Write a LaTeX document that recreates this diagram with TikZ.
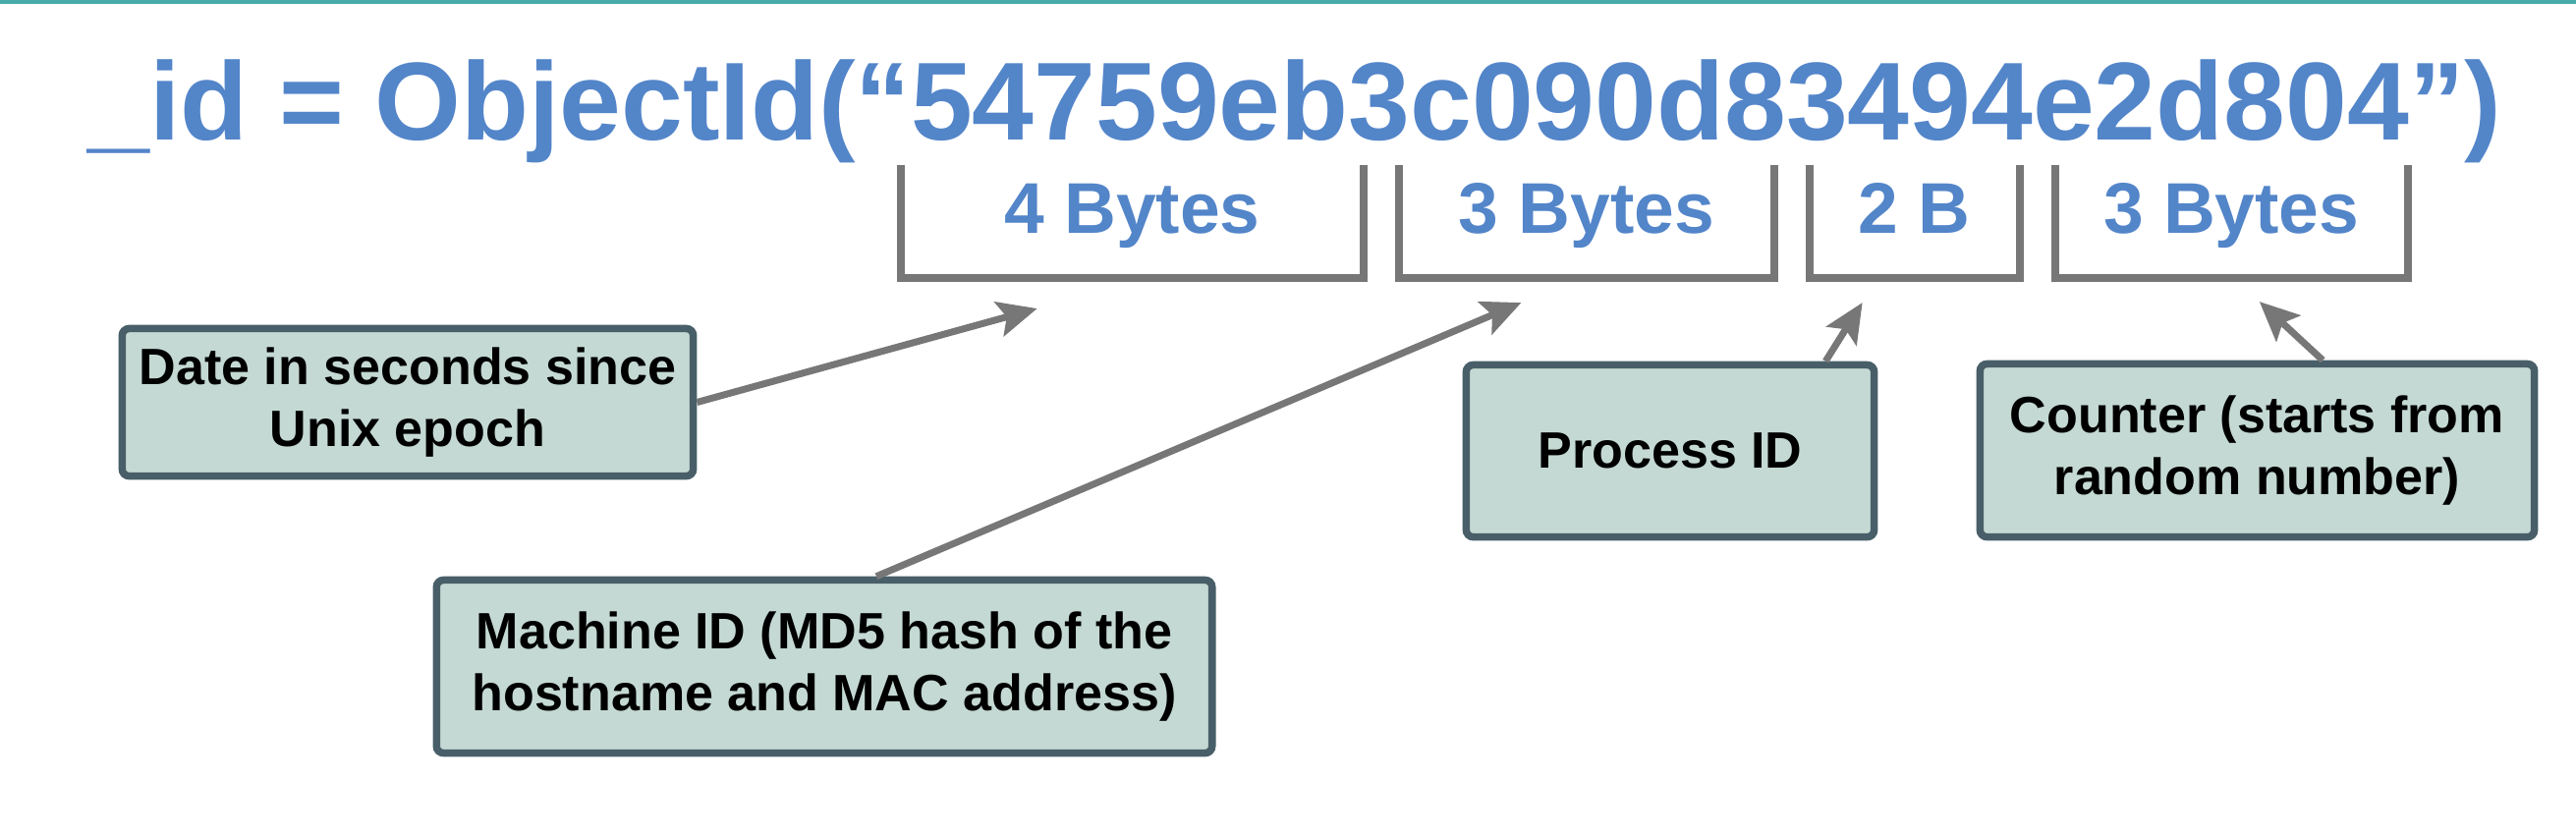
\documentclass[tikz,border=0pt]{standalone}
\usepackage{fontspec}
\setmainfont{Liberation Sans}
\usetikzlibrary{matrix}
\usetikzlibrary{positioning}
\usetikzlibrary{arrows.meta}

\definecolor{idblue}{HTML}{5385C9}
\definecolor{brkgray}{HTML}{777777}
\definecolor{boxfill}{HTML}{C4D9D3}
\definecolor{boxline}{HTML}{485F69}
\definecolor{topline}{HTML}{4AABAB}

\begin{document}
\begin{tikzpicture}
  [x=0.01cm, y=-0.01cm,
   mat/.style={matrix of nodes,
      nodes={minimum height=1.15cm, inner sep=0pt, outer sep=0pt,
             text height=0.52cm, text depth=0.29cm, text=idblue,
             font=\fontsize{20.8}{24}\selectfont\bfseries},
      column sep=0.36cm,
      inner sep=0pt, outer sep=0pt,
  },
   brk/.style={draw=brkgray, line width=0.08cm},
   info/.style={draw=boxline, fill=boxfill, line width=0.075cm, rounded corners=2pt,
      align=center, font=\fontsize{14.8}{18}\selectfont\bfseries},
   arr/.style={draw=brkgray, line width=0.07cm,
      -{Stealth[length=0.4cm, width=0.36cm, inset=0.08cm]}}]
  \useasboundingbox (0,0) rectangle (2622,850);
  \fill[topline] (0,0) rectangle (2622,4);

  \node[anchor=base, text=idblue, font=\fontsize{32.1}{37}\selectfont\bfseries] (oid)
    at (1318,142) {\_id = ObjectId(“54759eb3c090d83494e2d804”)};

  \matrix[mat, anchor=north west] (bytes) at (917,168)
         {
           |[minimum width=4.71cm]| 4 Bytes & |[minimum width=3.81cm]| 3 Bytes
             & |[minimum width=2.14cm]| 2 B & |[minimum width=3.59cm]| 3 Bytes \\
         };
  \foreach \c in {1,...,4}
    \draw[brk] (bytes-1-\c.north west) |- (bytes-1-\c.south east) -- (bytes-1-\c.north east);

  \node[info, minimum width=5.81cm, minimum height=1.50cm] (date) at (415,409.5)
    {Date in seconds since\\Unix epoch};
  \node[info, minimum width=7.89cm, minimum height=1.76cm] (machine) at (839,678.5)
    {Machine ID (MD5 hash of the\\hostname and MAC address)};
  \node[info, minimum width=4.15cm, minimum height=1.75cm] (process) at (1700,459)
    {Process ID};
  \node[info, minimum width=5.64cm, minimum height=1.76cm] (counter) at (2297.5,458.5)
    {Counter (starts from\\random number)};

  \draw[arr] (date.east) -- ([shift={(-97,31)}]bytes-1-1.south);
  \draw[arr] (machine.60) -- ([shift={(-66.5,25)}]bytes-1-2.south);
  \draw[arr] (process.30) -- ([shift={(-53,25)}]bytes-1-3.south);
  \draw[arr] (counter.54) -- ([shift={(28.5,24)}]bytes-1-4.south);
\end{tikzpicture}
\end{document}
